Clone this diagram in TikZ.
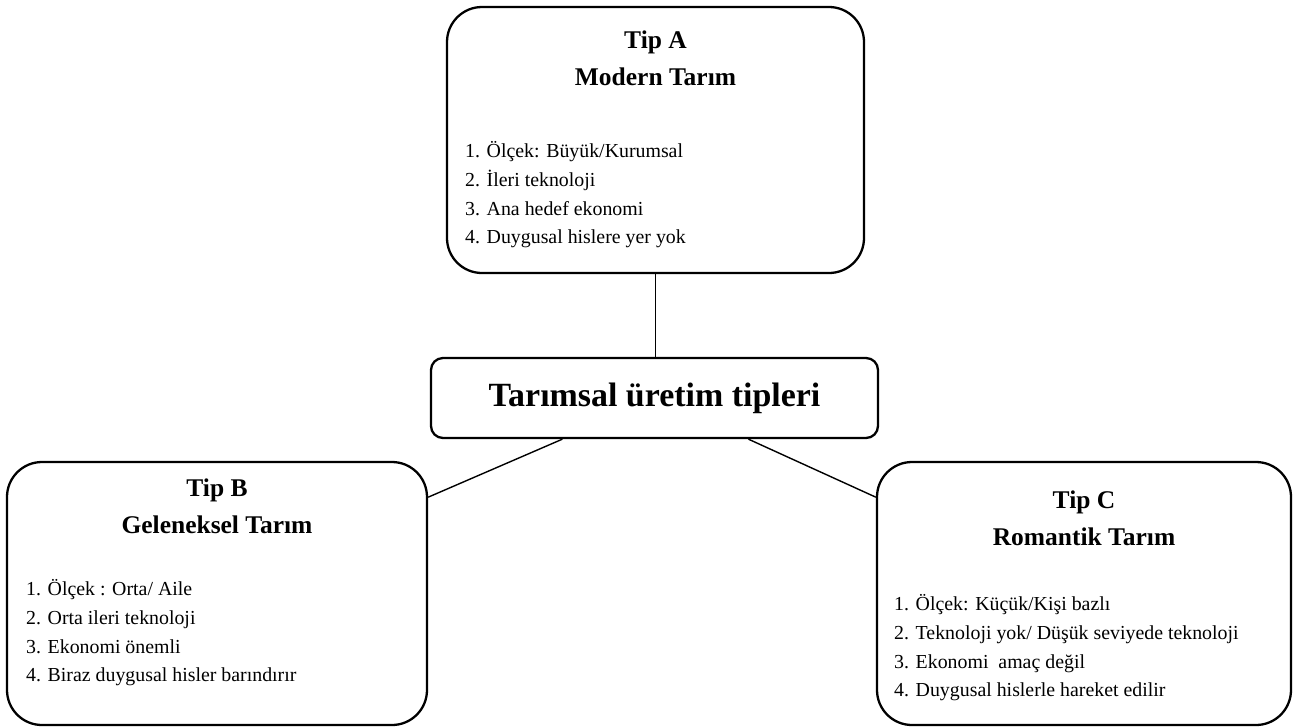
\documentclass[tikz,border=0pt]{standalone}
\usepackage{fontspec}
\setmainfont{Liberation Serif}
\usepackage{tikz}
\usetikzlibrary{calc, positioning}

\begin{document}
\begin{tikzpicture}[
    tipbox/.style={draw=black, line width=1.3pt, rounded corners=0.7cm},
    tiptitle/.style={anchor=base, align=center, inner sep=0pt, font=\bfseries\fontsize{14.5}{21}\selectfont},
    tiplist/.style={anchor=base west, align=left, inner sep=0pt, font=\fontsize{11.3}{16.4}\selectfont},
    link/.style={draw=black, line width=0.8pt}
  ]
  \useasboundingbox (0,0) rectangle (25.86,-14.54);
  %
  \node[tipbox, minimum width=8.34cm, minimum height=5.32cm] (A) at (13.11,-2.80) {};
  \node[tipbox, minimum width=8.40cm, minimum height=5.26cm] (B) at (4.34,-11.87) {};
  \node[tipbox, minimum width=8.28cm, minimum height=5.26cm] (C) at (21.68,-11.87) {};
  \node[draw=black, line width=1.3pt, rounded corners=0.24cm, minimum width=8.94cm,
        minimum height=1.6cm, font=\bfseries\fontsize{19.3}{24}\selectfont] (T) at (13.09,-7.96)
        {Tarımsal üretim tipleri};
  %
  % base anchor sits on the last line
  \node[tiptitle] (Atitle) at ($(A.north)+(0,-1.60)$) {Tip A\\Modern Tarım};
  \node[tiplist] (Alist) at ($(A.north west)+(0.38,-4.76)$)
    {1. Ölçek: Büyük/Kurumsal\\2. İleri teknoloji\\3. Ana hedef ekonomi\\4. Duygusal hislere yer yok};
  %
  \node[tiptitle] (Btitle) at ($(B.north)+(0,-1.46)$) {Tip B\\Geleneksel Tarım};
  \node[tiplist] (Blist) at ($(B.north west)+(0.40,-4.42)$)
    {1. Ölçek : Orta/ Aile\\2. Orta ileri teknoloji\\3. Ekonomi önemli\\4. Biraz duygusal hisler barındırır};
  %
  \node[tiptitle] (Ctitle) at ($(C.north)+(0,-1.70)$) {Tip C\\Romantik Tarım};
  \node[tiplist] (Clist) at ($(C.north west)+(0.36,-4.72)$)
    {1. Ölçek: Küçük/Kişi bazlı\\2. Teknoloji yok/ Düşük seviyede teknoloji\\3. Ekonomi~ amaç değil\\4. Duygusal hislerle hareket edilir};
  %
  \draw[link] (A.south) -- (A.south |- T.north);
  \draw[link] ($(T.south west)!0.295!(T.south east)$) -- ($(B.north east)!0.137!(B.south east)$);
  \draw[link] ($(T.south west)!0.709!(T.south east)$) -- ($(C.north west)!0.137!(C.south west)$);
\end{tikzpicture}
\end{document}
